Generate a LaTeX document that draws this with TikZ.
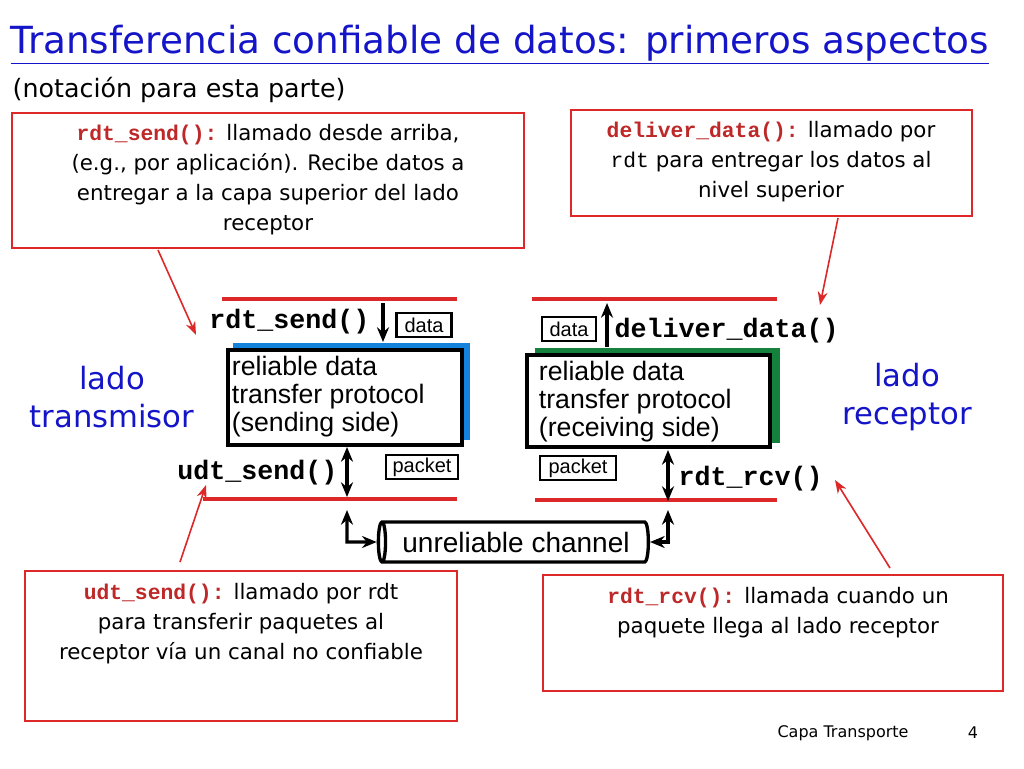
\documentclass[tikz,border=0pt]{standalone}
\usepackage{fontspec}
\setmainfont{DejaVu Sans}
\newfontfamily\codef{Liberation Mono}
\newfontfamily\protof{Liberation Sans}
\usetikzlibrary{arrows.meta,shapes.geometric}
\definecolor{tblue}{RGB}{20,20,200}
\definecolor{rred}{RGB}{220,40,40}
\definecolor{cred}{RGB}{190,40,40}
\definecolor{pblue}{RGB}{20,130,220}
\definecolor{pgreen}{RGB}{20,130,60}
\begin{document}
\begin{tikzpicture}[x=0.75pt,y=-0.75pt,
  note/.style={draw=rred,line width=1.5pt,fill=white},
  ntext/.style={align=center,font=\fontsize{16}{22.5}\selectfont},
  code/.style={font=\codef\bfseries\fontsize{20}{22}\selectfont},
  lbl/.style={draw,line width=1.8pt,inner sep=1pt,minimum height=24*0.75pt,font=\protof\fontsize{15}{16}\selectfont},
  proto/.style={align=left,font=\protof\fontsize{20}{21}\selectfont},
  redline/.style={draw=rred,line width=3.5pt},
  redarrow/.style={draw=rred,line width=1.2pt,-{Stealth[length=10pt]}},
  bar/.style={line width=2.5pt,-{Stealth[length=11pt,width=9pt]}},
  bbar/.style={line width=2.5pt,{Stealth[length=11pt,width=9pt]}-{Stealth[length=11pt,width=9pt]}},
  side/.style={align=center,text=tblue,font=\fontsize{23}{29}\selectfont}]
\useasboundingbox (0,0) rectangle (1024,768);
\fill[white] (0,0) rectangle (1024,768);
\node[anchor=west,text=tblue,font=\fontsize{28}{32}\selectfont] (title) at (6,45) {\underline{Transferencia confiable de datos: primeros aspectos}};
\node[anchor=west,font=\fontsize{19}{22}\selectfont] (sub) at (8,90) {(notación para esta parte)};
% notes
\draw[note] (12,113) rectangle (524,248);
\node[ntext] (n1) at (268,180) {{\color{cred}\codef\bfseries rdt\_send():} llamado desde arriba,\\(e.g., por aplicación). Recibe datos a\\entregar a la capa superior del lado\\receptor};
\draw[note] (571,110) rectangle (972,216);
\node[ntext] (n2) at (771,162) {{\color{cred}\codef\bfseries deliver\_data():} llamado por\\{\codef rdt} para entregar los datos al\\nivel superior};
\draw[note] (25,571) rectangle (457,721);
\node[ntext] (n3) at (241,624) {{\color{cred}\codef\bfseries udt\_send():} llamado por rdt\\para transferir paquetes al\\receptor vía un canal no confiable};
\draw[note] (543,575) rectangle (1003,691);
\node[ntext] (n4) at (778,613) {{\color{cred}\codef\bfseries rdt\_rcv():} llamada cuando un\\paquete llega al lado receptor};
% sides
\node[side] (lt) at (112,397) {lado\\transmisor};
\node[side] (lr) at (907,397) {lado\\receptor};
% left protocol
\draw[redline] (222,299) -- (457,299);
\draw[redline] (203,499) -- (457,499);
\fill[pblue] (233,343) rectangle (470,440);
\draw[line width=2.5pt,fill=white] (228,350) rectangle (462,445);
\node[proto,anchor=north west,inner sep=2pt] (sp) at (229,353) {reliable data\\transfer protocol\\(sending side)};
\node[code,anchor=east] (rs) at (374,322) {rdt\_send()};
\coordinate (a1) at (383,303); \coordinate (a2) at (383,342);
\draw[bar] (a1) -- (a2);
\node[lbl,minimum width=55*0.75pt] (d1) at (424,325) {data};
\node[code,anchor=east] (us) at (342,473) {udt\_send()};
\coordinate (b1) at (347,447); \coordinate (b2) at (347,497);
\draw[bbar] (b1) -- (b2);
\node[lbl,minimum width=72*0.75pt] (p1) at (422,467) {packet};
% right protocol
\draw[redline] (532,299) -- (777,299);
\draw[redline] (535,500) -- (777,500);
\fill[pgreen] (535,348) rectangle (780,443);
\draw[line width=2.5pt,fill=white] (527,355) rectangle (770,447);
\node[proto,anchor=north west,inner sep=2pt] (rp) at (536,358) {reliable data\\transfer protocol\\(receiving side)};
\node[lbl,minimum width=54*0.75pt] (d2) at (569,329) {data};
\coordinate (c1) at (607,347); \coordinate (c2) at (607,303);
\draw[bar] (c1) -- (c2);
\node[code,anchor=west] (dd) at (610,331) {deliver\_data()};
\node[lbl,minimum width=76*0.75pt] (p2) at (578,468) {packet};
\coordinate (e1) at (668,450); \coordinate (e2) at (668,501);
\draw[bbar] (e1) -- (e2);
\node[code,anchor=west] (rr) at (674,479) {rdt\_rcv()};
% channel
\node[cylinder,shape border rotate=180,draw,line width=2.5pt,minimum height=270*0.75pt,minimum width=40*0.75pt,aspect=0.35,inner sep=0pt,font=\protof\fontsize{21}{23}\selectfont] (ch) at (516,542) {unreliable channel};
\coordinate (f1) at (347,510); \coordinate (f2) at (347,542);
\draw[bbar] (f1) -- (f2) -- (ch.west);
\coordinate (g1) at (668,510); \coordinate (g2) at (668,542);
\draw[bbar] (g1) -- (g2) -- (ch.east);
% red arrows
\draw[redarrow] (158,250) -- (196,335);
\draw[redarrow] (838,218) -- (820,305);
\draw[redarrow] (180,562) -- (206,485);
\draw[redarrow] (890,568) -- (835,480);
% footer
\node[font=\fontsize{12}{14}\selectfont] (ft) at (843,733) {Capa Transporte};
\node[font=\fontsize{12}{14}\selectfont] (pg) at (973,733) {4};
\end{tikzpicture}
\end{document}
